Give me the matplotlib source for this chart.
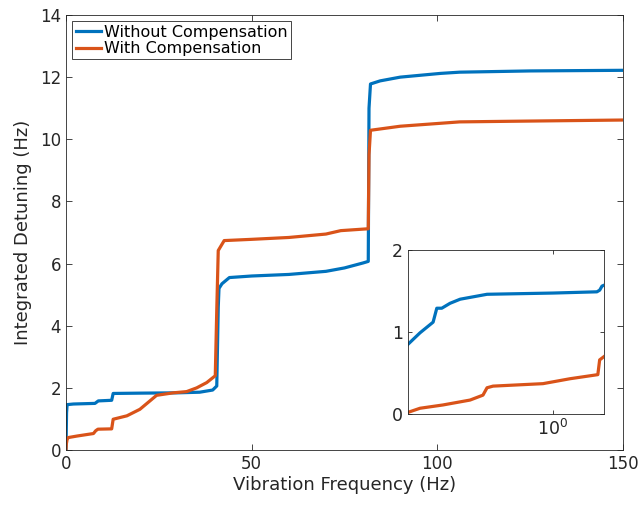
import numpy as np
import matplotlib.pyplot as plt
from matplotlib.ticker import FixedLocator, NullLocator, LogFormatterMathtext

# 数据
freq_without = [0.0, 0.15, 0.3, 2.0, 7.8, 8.7, 12.3, 12.7, 20.0, 30.0, 36.0, 39.5, 40.6, 41.0, 41.2, 42.0, 44.0,
                50.0, 60.0, 70.0, 75.0, 80.0, 81.4, 81.6, 82.0, 84.6, 90.0, 100.8, 106.0, 125.0, 150.0]
det_without = [0.0, 1.2, 1.46, 1.48, 1.5, 1.58, 1.6, 1.82, 1.83, 1.84, 1.86, 1.93, 2.06, 4.6, 5.2, 5.35, 5.55,
               5.6, 5.65, 5.75, 5.86, 6.02, 6.07, 11.0, 11.78, 11.88, 12.0, 12.12, 12.16, 12.2, 12.22]

freq_with = [0.0, 0.1, 0.3, 0.6, 3.0, 7.4, 8.0, 8.6, 12.3, 12.7, 16.4, 19.9, 22.6, 24.4, 28.9, 32.5, 35.2, 37.9, 40.2,
             40.6, 41.0, 42.6, 50.0, 60.0, 70.0, 74.0, 81.4, 81.6, 82.0, 90.0, 106.0, 120.0, 150.0]
det_with = [0.0, 0.2, 0.34, 0.4, 0.45, 0.53, 0.62, 0.67, 0.68, 0.99, 1.1, 1.31, 1.58, 1.76, 1.84, 1.88, 2.0, 2.17, 2.39,
            4.5, 6.42, 6.74, 6.78, 6.84, 6.95, 7.06, 7.12, 9.5, 10.29, 10.42, 10.56, 10.58, 10.62]

# 放大图（对数横轴）
inset_f_without = [0.1, 0.121, 0.149, 0.158, 0.171, 0.195, 0.229, 0.351, 1.0, 2.01, 2.1, 2.18, 2.25]
inset_d_without = [0.85, 0.99, 1.12, 1.29, 1.29, 1.35, 1.40, 1.46, 1.475, 1.49, 1.51, 1.56, 1.57]
inset_f_with = [0.1, 0.121, 0.174, 0.268, 0.329, 0.351, 0.386, 0.853, 1.31, 2.04, 2.1, 2.25]
inset_d_with = [0.02, 0.07, 0.11, 0.17, 0.23, 0.32, 0.34, 0.37, 0.43, 0.48, 0.66, 0.70]

c_blue = '#0072BD'
c_red = '#D95319'
c_axis = '#262626'

plt.rcParams['font.family'] = ['DejaVu Sans']
plt.rcParams['xtick.direction'] = 'in'
plt.rcParams['ytick.direction'] = 'in'
plt.rcParams['xtick.top'] = True
plt.rcParams['ytick.right'] = True

fig = plt.figure(figsize=(6.41, 5.05), dpi=100)
ax = fig.add_axes([66/641, 1 - 450/505, (623-66)/641, (450-15)/505])
ax.plot(freq_without, det_without, color=c_blue, lw=2.3, label='Without Compensation')
ax.plot(freq_with, det_with, color=c_red, lw=2.3, label='With Compensation')
ax.set_xlim(0, 150)
ax.set_ylim(0, 14)
ax.set_xticks([0, 50, 100, 150])
ax.set_yticks(np.arange(0, 15, 2))
ax.tick_params(labelsize=12, colors=c_axis, length=4, width=0.6)
for s in ax.spines.values():
    s.set_color(c_axis)
    s.set_linewidth(0.6)
ax.set_xlabel('Vibration Frequency (Hz)', fontsize=13, color=c_axis, labelpad=2)
ax.set_ylabel('Integrated Detuning (Hz)', fontsize=13, color=c_axis, labelpad=6)
leg = ax.legend(loc='upper left', fontsize=11.5, handlelength=1.6, handletextpad=0.2,
                borderpad=0.2, labelspacing=0.1, borderaxespad=0.4, fancybox=False, framealpha=1)
leg.get_frame().set_edgecolor(c_axis)
leg.get_frame().set_linewidth(0.6)

# --- 放大图 ---
axi = fig.add_axes([408/641, 1 - 414/505, (604-408)/641, (414-250)/505])
axi.plot(inset_f_without, inset_d_without, color=c_blue, lw=2.3)
axi.plot(inset_f_with, inset_d_with, color=c_red, lw=2.3)
axi.set_xscale('log')
axi.set_xlim(0.1, 2.25)
axi.set_ylim(0, 2)
axi.xaxis.set_major_locator(FixedLocator([1.0]))
axi.xaxis.set_major_formatter(LogFormatterMathtext())
axi.xaxis.set_minor_locator(NullLocator())
axi.set_yticks([0, 1, 2])
axi.tick_params(labelsize=12.5, colors=c_axis, length=3, width=0.6)
for s in axi.spines.values():
    s.set_color(c_axis)
    s.set_linewidth(0.6)

fig.savefig('out.png', dpi=100)
